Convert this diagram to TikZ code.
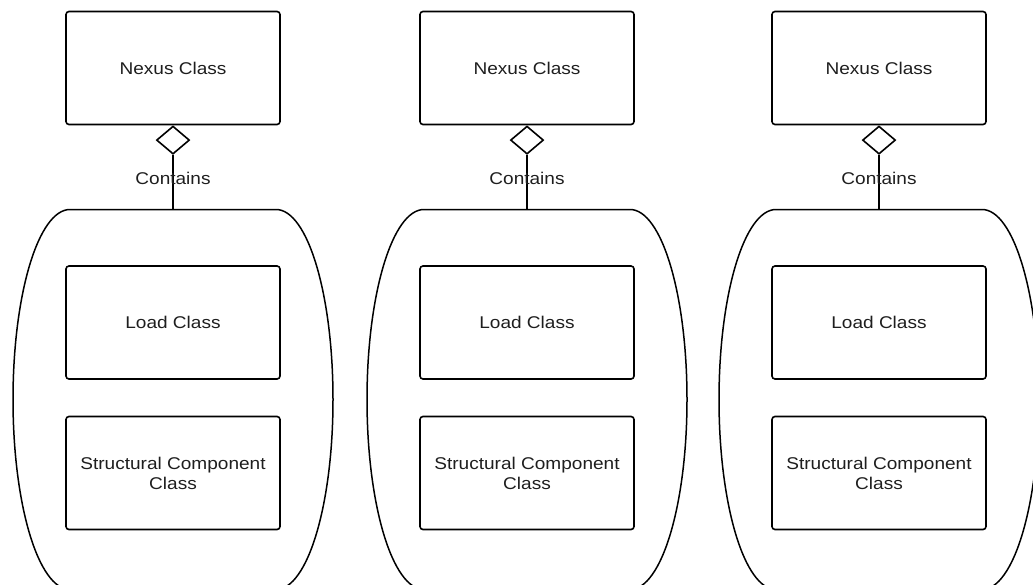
\documentclass[tikz,border=0pt]{standalone}
\usepackage{fontspec}
\setmainfont{Liberation Sans}[FakeStretch=1.12]
\usetikzlibrary{shapes.geometric}

\definecolor{inkgrey}{HTML}{1E1E1E}

\tikzset{
  classbox/.style={draw, line width=1.6pt, rounded corners=3pt,
    minimum width=214pt, minimum height=113pt, inner sep=0pt,
    align=center, text=inkgrey, font=\fontsize{17}{20}\selectfont},
  container/.style={draw=none, minimum width=320pt, minimum height=380pt, inner sep=0pt},
  aggr/.style={draw, diamond, line width=1.6pt, minimum width=33pt, minimum height=28pt,
    inner sep=0pt, aspect=1.18},
  link/.style={line width=1.6pt},
  outline/.style={line width=1.5pt},
  relname/.style={font=\fontsize{17}{20}\selectfont, text=inkgrey, inner sep=0pt}
}

\begin{document}
\begin{tikzpicture}[x=1pt, y=-1pt]
  \useasboundingbox (0,0) rectangle (1033,584);

  \foreach \i/\cx in {1/173, 2/527, 3/879} {
    % owning class with its aggregation diamond
    \node[classbox] (nexus\i) at (\cx, 68) {Nexus Class};
    \node[aggr, anchor=north] (dia\i) at (nexus\i.south) {};

    % container holding the contained classes
    \node[container, anchor=north] (cont\i) at (\cx, 209.5) {};
    \draw[outline]
      (\cx-103, 209.5) -- (\cx+103, 209.5)
      .. controls (\cx+134.5, 209.5) and (\cx+160, 294) .. (\cx+160, 399.5)
      .. controls (\cx+160, 505) and (\cx+134.5, 589.5) .. (\cx+103, 589.5)
      -- (\cx-103, 589.5)
      .. controls (\cx-134.5, 589.5) and (\cx-160, 505) .. (\cx-160, 399.5)
      .. controls (\cx-160, 294) and (\cx-134.5, 209.5) .. (\cx-103, 209.5)
      -- cycle;

    \node[classbox] (load\i) at (\cx, 322.5) {Load Class};
    \node[classbox] (struct\i) at (\cx, 473) {Structural Component\\Class};

    % aggregation link
    \draw[link] (dia\i.south) -- (cont\i.north);
    \node[relname] (rel\i) at (\cx, 178) {Contains};
  }
\end{tikzpicture}
\end{document}
